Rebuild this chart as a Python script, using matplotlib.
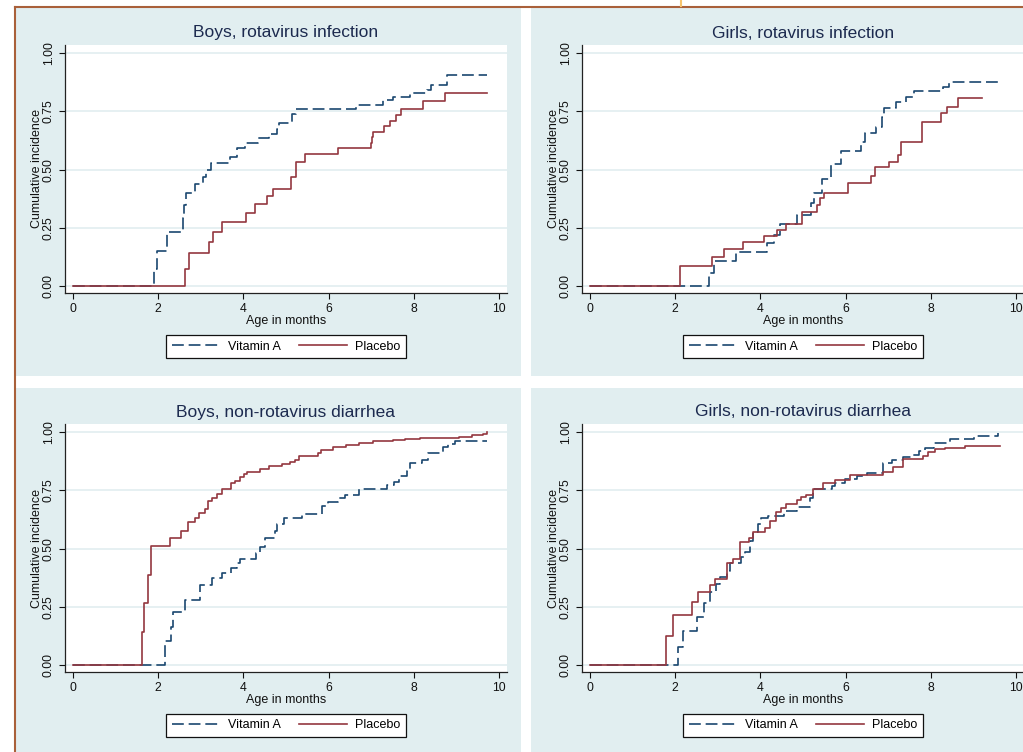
import numpy as np
import matplotlib
matplotlib.use('Agg')
import matplotlib.pyplot as plt
from matplotlib.patches import Rectangle
from matplotlib.lines import Line2D

plt.rcParams['font.family'] = ['Liberation Sans', 'DejaVu Sans']
plt.rcParams['lines.scale_dashes'] = False

W, H = 1023, 752

# --- colours (Stata s2color look) ---
BG = '#e1eef0'
GRID = '#e1eef0'
NAVY = '#1a476f'
MAROON = '#94373f'
TITLE_C = '#1c2a4f'
BORDER = '#a9603a'

# --- data: step times (months) and cumulative incidence after each step ---
boys_rota_vita_t = [0, 1.91, 1.97, 2.20, 2.58, 2.62, 2.66, 2.86, 3.06, 3.12, 3.24, 3.69, 3.84, 4.05,
                    4.34, 4.59, 4.80, 4.84, 5.13, 5.23, 6.63, 7.27, 7.50, 7.91, 8.30, 8.41, 8.77, 9.70]
boys_rota_vita_s = [0, 0.075, 0.149, 0.232, 0.29, 0.35, 0.40, 0.44, 0.47, 0.50, 0.53, 0.555, 0.594, 0.615,
                    0.634, 0.651, 0.675, 0.70, 0.74, 0.762, 0.776, 0.80, 0.813, 0.828, 0.842, 0.865, 0.908, 0.908]
boys_rota_plac_t = [0, 2.63, 2.73, 3.19, 3.29, 3.49, 4.07, 4.27, 4.55, 4.70, 5.11, 5.23, 5.44, 6.21,
                    7.00, 7.02, 7.05, 7.30, 7.44, 7.57, 7.70, 8.22, 8.73, 9.70]
boys_rota_plac_s = [0, 0.072, 0.143, 0.188, 0.234, 0.275, 0.314, 0.353, 0.387, 0.418, 0.469, 0.534, 0.567, 0.594,
                    0.613, 0.638, 0.661, 0.687, 0.71, 0.735, 0.760, 0.795, 0.831, 0.831]

girls_rota_vita_t = [0, 2.80, 2.91, 3.42, 4.16, 4.31, 4.47, 4.86, 5.19, 5.25, 5.45, 5.66, 5.88, 6.35,
                     6.45, 6.71, 6.85, 6.90, 7.18, 7.41, 7.61, 8.27, 8.43, 9.65]
girls_rota_vita_s = [0, 0.055, 0.109, 0.147, 0.184, 0.22, 0.267, 0.306, 0.357, 0.40, 0.46, 0.524, 0.578, 0.617,
                     0.656, 0.684, 0.724, 0.766, 0.79, 0.813, 0.836, 0.853, 0.876, 0.876]
girls_rota_plac_t = [0, 2.12, 2.86, 3.15, 3.59, 4.08, 4.39, 4.59, 4.98, 5.33, 5.41, 5.49, 6.06, 6.59,
                     6.68, 7.02, 7.22, 7.29, 7.78, 8.24, 8.37, 8.63, 9.20]
girls_rota_plac_s = [0, 0.086, 0.124, 0.16, 0.189, 0.214, 0.239, 0.267, 0.317, 0.346, 0.377, 0.40, 0.441, 0.473,
                     0.51, 0.531, 0.564, 0.617, 0.706, 0.741, 0.767, 0.807, 0.807]

boys_diar_vita_t = [0, 2.17, 2.30, 2.36, 2.63, 2.98, 3.26, 3.49, 3.70, 3.85, 3.92, 4.30, 4.40, 4.50,
                    4.74, 4.80, 4.95, 5.37, 5.85, 5.99, 6.23, 6.38, 6.70, 7.36, 7.52, 7.66, 7.83, 7.91,
                    8.18, 8.34, 8.69, 8.80, 8.96, 9.70]
boys_diar_vita_s = [0, 0.102, 0.163, 0.229, 0.278, 0.343, 0.373, 0.396, 0.415, 0.44, 0.455, 0.48, 0.505, 0.546,
                    0.575, 0.607, 0.632, 0.649, 0.681, 0.702, 0.717, 0.732, 0.757, 0.771, 0.785, 0.81, 0.835, 0.868,
                    0.88, 0.911, 0.936, 0.95, 0.961, 0.961]
boys_diar_plac_t = [0, 1.62, 1.68, 1.77, 1.83, 2.28, 2.53, 2.70, 2.87, 2.97, 3.09, 3.18, 3.26, 3.38,
                    3.49, 3.70, 3.80, 3.92, 4.02, 4.08, 4.40, 4.60, 4.90, 5.10, 5.20, 5.30, 5.75, 5.82,
                    6.11, 6.40, 6.70, 7.05, 7.50, 7.80, 8.14, 9.05, 9.35, 9.62, 9.70]
boys_diar_plac_s = [0, 0.143, 0.266, 0.388, 0.511, 0.546, 0.577, 0.615, 0.632, 0.652, 0.671, 0.704, 0.718, 0.735,
                    0.758, 0.78, 0.79, 0.807, 0.822, 0.83, 0.84, 0.855, 0.862, 0.87, 0.88, 0.896, 0.91, 0.925,
                    0.937, 0.945, 0.955, 0.961, 0.966, 0.971, 0.977, 0.981, 0.986, 0.994, 1.0]

girls_diar_vita_t = [0, 2.07, 2.18, 2.51, 2.69, 2.83, 2.97, 3.05, 3.23, 3.28, 3.55, 3.63, 3.75, 3.83,
                     3.95, 4.01, 4.18, 4.56, 4.85, 5.16, 5.24, 5.67, 5.75, 5.98, 6.26, 6.49, 6.88, 7.08,
                     7.35, 7.55, 7.71, 7.86, 8.06, 8.45, 9.00, 9.55, 9.56]
girls_diar_vita_s = [0, 0.077, 0.148, 0.208, 0.265, 0.312, 0.348, 0.377, 0.405, 0.44, 0.462, 0.484, 0.534, 0.572,
                     0.605, 0.63, 0.641, 0.662, 0.679, 0.716, 0.755, 0.769, 0.783, 0.797, 0.812, 0.826, 0.869, 0.879,
                     0.893, 0.904, 0.919, 0.933, 0.954, 0.969, 0.983, 0.983, 0.996]
girls_diar_plac_t = [0, 1.80, 1.96, 2.40, 2.54, 2.83, 2.93, 3.23, 3.36, 3.53, 3.73, 3.83, 4.10, 4.22,
                     4.36, 4.49, 4.61, 4.85, 4.96, 5.08, 5.24, 5.47, 5.75, 6.10, 6.88, 7.12, 7.35, 7.82,
                     7.94, 8.10, 8.33, 8.80, 9.62]
girls_diar_plac_s = [0, 0.126, 0.214, 0.27, 0.312, 0.342, 0.371, 0.44, 0.455, 0.528, 0.544, 0.572, 0.59, 0.619,
                     0.655, 0.673, 0.693, 0.708, 0.722, 0.73, 0.756, 0.783, 0.793, 0.816, 0.83, 0.852, 0.884, 0.899,
                     0.916, 0.926, 0.93, 0.939, 0.939]

panel_titles = ['Boys, rotavirus infection', 'Girls, rotavirus infection',
                'Boys, non-rotavirus diarrhea', 'Girls, non-rotavirus diarrhea']
panel_data = [
    (boys_rota_vita_t, boys_rota_vita_s, boys_rota_plac_t, boys_rota_plac_s),
    (girls_rota_vita_t, girls_rota_vita_s, girls_rota_plac_t, girls_rota_plac_s),
    (boys_diar_vita_t, boys_diar_vita_s, boys_diar_plac_t, boys_diar_plac_s),
    (girls_diar_vita_t, girls_diar_vita_s, girls_diar_plac_t, girls_diar_plac_s),
]
x_ticks = [0, 2, 4, 6, 8, 10]
y_ticks = [0.0, 0.25, 0.5, 0.75, 1.0]
y_ticklabels = ['0.00', '0.25', '0.50', '0.75', '1.00']


def fx(x):
    return x / W


def fy(y):
    return 1 - y / H


fig = plt.figure(figsize=(W / 100, H / 100), dpi=100)
fig.patch.set_facecolor('white')

# panel backgrounds (left, top, right, bottom in px) - drawn under the axes
panel_boxes = [(16, 8, 521, 376), (531, 8, 1030, 376), (16, 388, 521, 760), (531, 388, 1030, 760)]
for (l, t, r, b) in panel_boxes:
    fig.patches.append(Rectangle((fx(l), fy(b)), (r - l) / W, (b - t) / H,
                                 transform=fig.transFigure, facecolor=BG, edgecolor='none', zorder=-5))

# brown frame lines at top / left, small orange mark
fig.add_artist(Line2D([fx(15), fx(15)], [fy(7), fy(752)], color=BORDER, lw=1.5, transform=fig.transFigure))
fig.add_artist(Line2D([fx(15), fx(1023)], [fy(7), fy(7)], color=BORDER, lw=1.5, transform=fig.transFigure))
fig.add_artist(Line2D([fx(681), fx(681)], [fy(0), fy(6)], color='#f6c46e', lw=1.5, transform=fig.transFigure))

# axes rectangles: (left px, top px); size common
ax_w, ax_h = 442, 248
ax_origins = [(65, 45), (582, 45), (65, 424), (582, 424)]

for i, ax_org in enumerate(ax_origins):
    l, t = ax_org
    ax = fig.add_axes([fx(l), fy(t + ax_h), ax_w / W, ax_h / H])
    ax.set_facecolor('white')
    ax.set_xlim(-0.18, 10.18)
    ax.set_ylim(-0.03, 1.035)
    for sp in ['top', 'right']:
        ax.spines[sp].set_visible(False)
    for sp in ['left', 'bottom']:
        ax.spines[sp].set_color('#222222')
        ax.spines[sp].set_linewidth(0.9)
    ax.set_xticks(x_ticks)
    ax.set_yticks(y_ticks)
    ax.set_yticklabels(y_ticklabels, rotation=90, va='center')
    ax.tick_params(direction='out', length=4.3, width=0.8, pad=3, labelsize=8.8, colors='#111111')
    for yv in y_ticks:
        ax.axhline(yv, color=GRID, lw=1.2, zorder=1)

    vt, vs, pt, ps = panel_data[i]
    ax.step(vt, vs, where='post', color=NAVY, lw=1.2, dashes=(8.5, 3.5), zorder=3)
    ax.step(pt, ps, where='post', color=MAROON, lw=1.2, zorder=3)

    cx = l + ax_w / 2
    title_y = 33 if i < 2 else 412
    fig.text(fx(cx), fy(title_y), panel_titles[i], ha='center', va='center',
             fontsize=12.5, color=TITLE_C)
    fig.text(fx(l - 28), fy(t + ax_h / 2), 'Cumulative incidence', rotation=90,
             ha='center', va='center', fontsize=9, color='#111111')
    xlab_y = 321 if i < 2 else 700
    fig.text(fx(cx), fy(xlab_y), 'Age in months', ha='center', va='center',
             fontsize=9, color='#111111')

    leg_y = 346.5 if i < 2 else 725.5
    handles = [Line2D([], [], color=NAVY, lw=1.2, dashes=(8.5, 3.5)),
               Line2D([], [], color=MAROON, lw=1.2)]
    leg = fig.legend(handles, ['Vitamin A', 'Placebo'], loc='center',
                     bbox_to_anchor=(fx(cx), fy(leg_y)), ncol=2, fontsize=9,
                     frameon=True, fancybox=False, edgecolor='#111111', framealpha=1,
                     handlelength=3.85, handletextpad=0.65, columnspacing=1.45,
                     borderpad=0.45, borderaxespad=0)
    leg.get_frame().set_linewidth(0.9)

fig.savefig('out.png', dpi=100)
